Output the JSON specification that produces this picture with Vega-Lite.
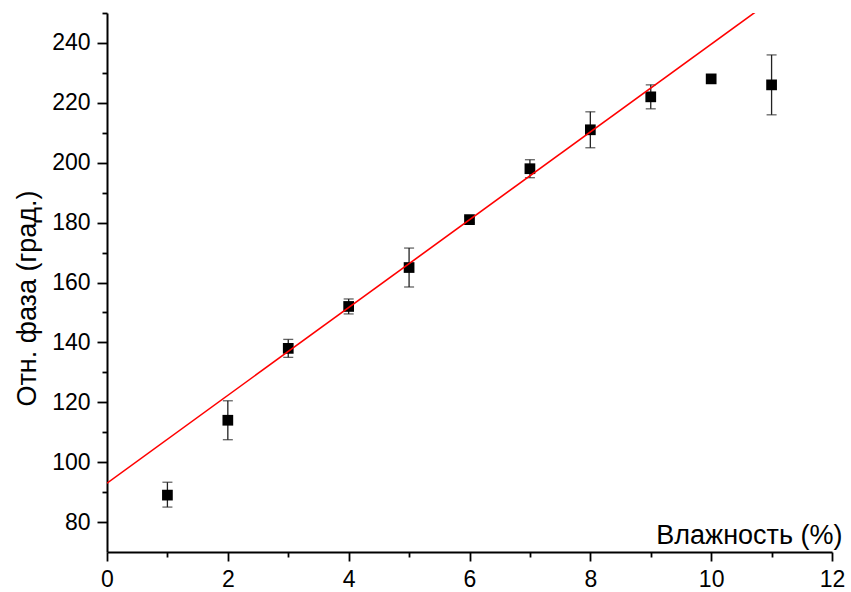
{
  "$schema": "https://vega.github.io/schema/vega-lite/v6.json",
  "autosize": "none",
  "width": 725,
  "height": 539,
  "padding": {"left": 107, "top": 13, "right": 19, "bottom": 40},
  "background": "white",
  "config": {
    "view": {"stroke": null},
    "font": "Liberation Sans",
    "axis": {
      "grid": false,
      "domainColor": "black",
      "domainWidth": 2,
      "tickColor": "black",
      "tickWidth": 1.8,
      "labelFont": "Liberation Sans",
      "labelFontSize": 23,
      "labelColor": "black",
      "titleFont": "Liberation Sans",
      "titleFontSize": 27,
      "titleFontWeight": "normal",
      "titleColor": "black",
      "labelFlush": false,
      "labelOverlap": false
    }
  },
  "datasets": {
    "points": [
      {"x": 1, "y": 89},
      {"x": 2, "y": 114},
      {"x": 3, "y": 138},
      {"x": 4, "y": 152},
      {"x": 5, "y": 165},
      {"x": 6, "y": 181},
      {"x": 7, "y": 198},
      {"x": 8, "y": 211},
      {"x": 9, "y": 222},
      {"x": 10, "y": 228},
      {"x": 11, "y": 226}
    ],
    "errors": [
      {"x": 1, "lo": 85, "hi": 93.3},
      {"x": 2, "lo": 107.5, "hi": 120.5},
      {"x": 3, "lo": 135, "hi": 141},
      {"x": 4, "lo": 149.5, "hi": 154.5},
      {"x": 5, "lo": 158.5, "hi": 171.5},
      {"x": 6, "lo": 180, "hi": 182},
      {"x": 7, "lo": 195, "hi": 201},
      {"x": 8, "lo": 205, "hi": 217},
      {"x": 9, "lo": 218, "hi": 226},
      {"x": 11, "lo": 216, "hi": 236}
    ],
    "fit": [
      {"x": 0, "y": 93},
      {"x": 12, "y": 268.9}
    ]
  },
  "encoding": {
    "x": {
      "field": "x",
      "type": "quantitative",
      "scale": {"domain": [0, 12], "nice": false, "zero": false},
      "axis": {
        "title": "Влажность (%)",
        "values": [0, 1, 2, 3, 4, 5, 6, 7, 8, 9, 10, 11, 12],
        "labelExpr": "datum.value % 2 === 0 ? datum.label : ''",
        "tickSize": {"condition": {"test": "datum.value % 2 === 0", "value": 9}, "value": 5},
        "labelPadding": 7,
        "titleAnchor": null,
        "titleAlign": "right",
        "titleBaseline": "alphabetic",
        "titleX": 735,
        "titleY": -9
      }
    },
    "y": {
      "field": "y",
      "type": "quantitative",
      "scale": {"domain": [70, 250], "nice": false, "zero": false},
      "axis": {
        "title": "Отн. фаза (град.)",
        "values": [80, 90, 100, 110, 120, 130, 140, 150, 160, 170, 180, 190, 200, 210, 220, 230, 240, 250],
        "labelExpr": "datum.value % 20 === 0 ? datum.label : ''",
        "tickSize": {"condition": {"test": "datum.value % 20 === 0", "value": 10}, "value": 5},
        "labelPadding": 7,
        "titleAnchor": null,
        "titleAngle": -90,
        "titleAlign": "center",
        "titleBaseline": "alphabetic",
        "titleX": -72,
        "titleY": 285
      }
    }
  },
  "layer": [
    {
      "data": {"name": "errors"},
      "mark": {"type": "rule", "color": "#222", "strokeWidth": 1.3},
      "encoding": {
        "y": {"field": "lo", "type": "quantitative"},
        "y2": {"field": "hi"}
      }
    },
    {
      "data": {"name": "errors"},
      "mark": {"type": "tick", "orient": "horizontal", "color": "#222", "size": 10, "thickness": 1.3},
      "encoding": {"y": {"field": "lo", "type": "quantitative"}}
    },
    {
      "data": {"name": "errors"},
      "mark": {"type": "tick", "orient": "horizontal", "color": "#222", "size": 10, "thickness": 1.3},
      "encoding": {"y": {"field": "hi", "type": "quantitative"}}
    },
    {
      "data": {"name": "points"},
      "mark": {"type": "square", "color": "black", "opacity": 1, "size": 115}
    },
    {
      "data": {"name": "fit"},
      "mark": {"type": "line", "color": "#ff0000", "strokeWidth": 1.6, "clip": true},
      "encoding": {}
    }
  ]
}
